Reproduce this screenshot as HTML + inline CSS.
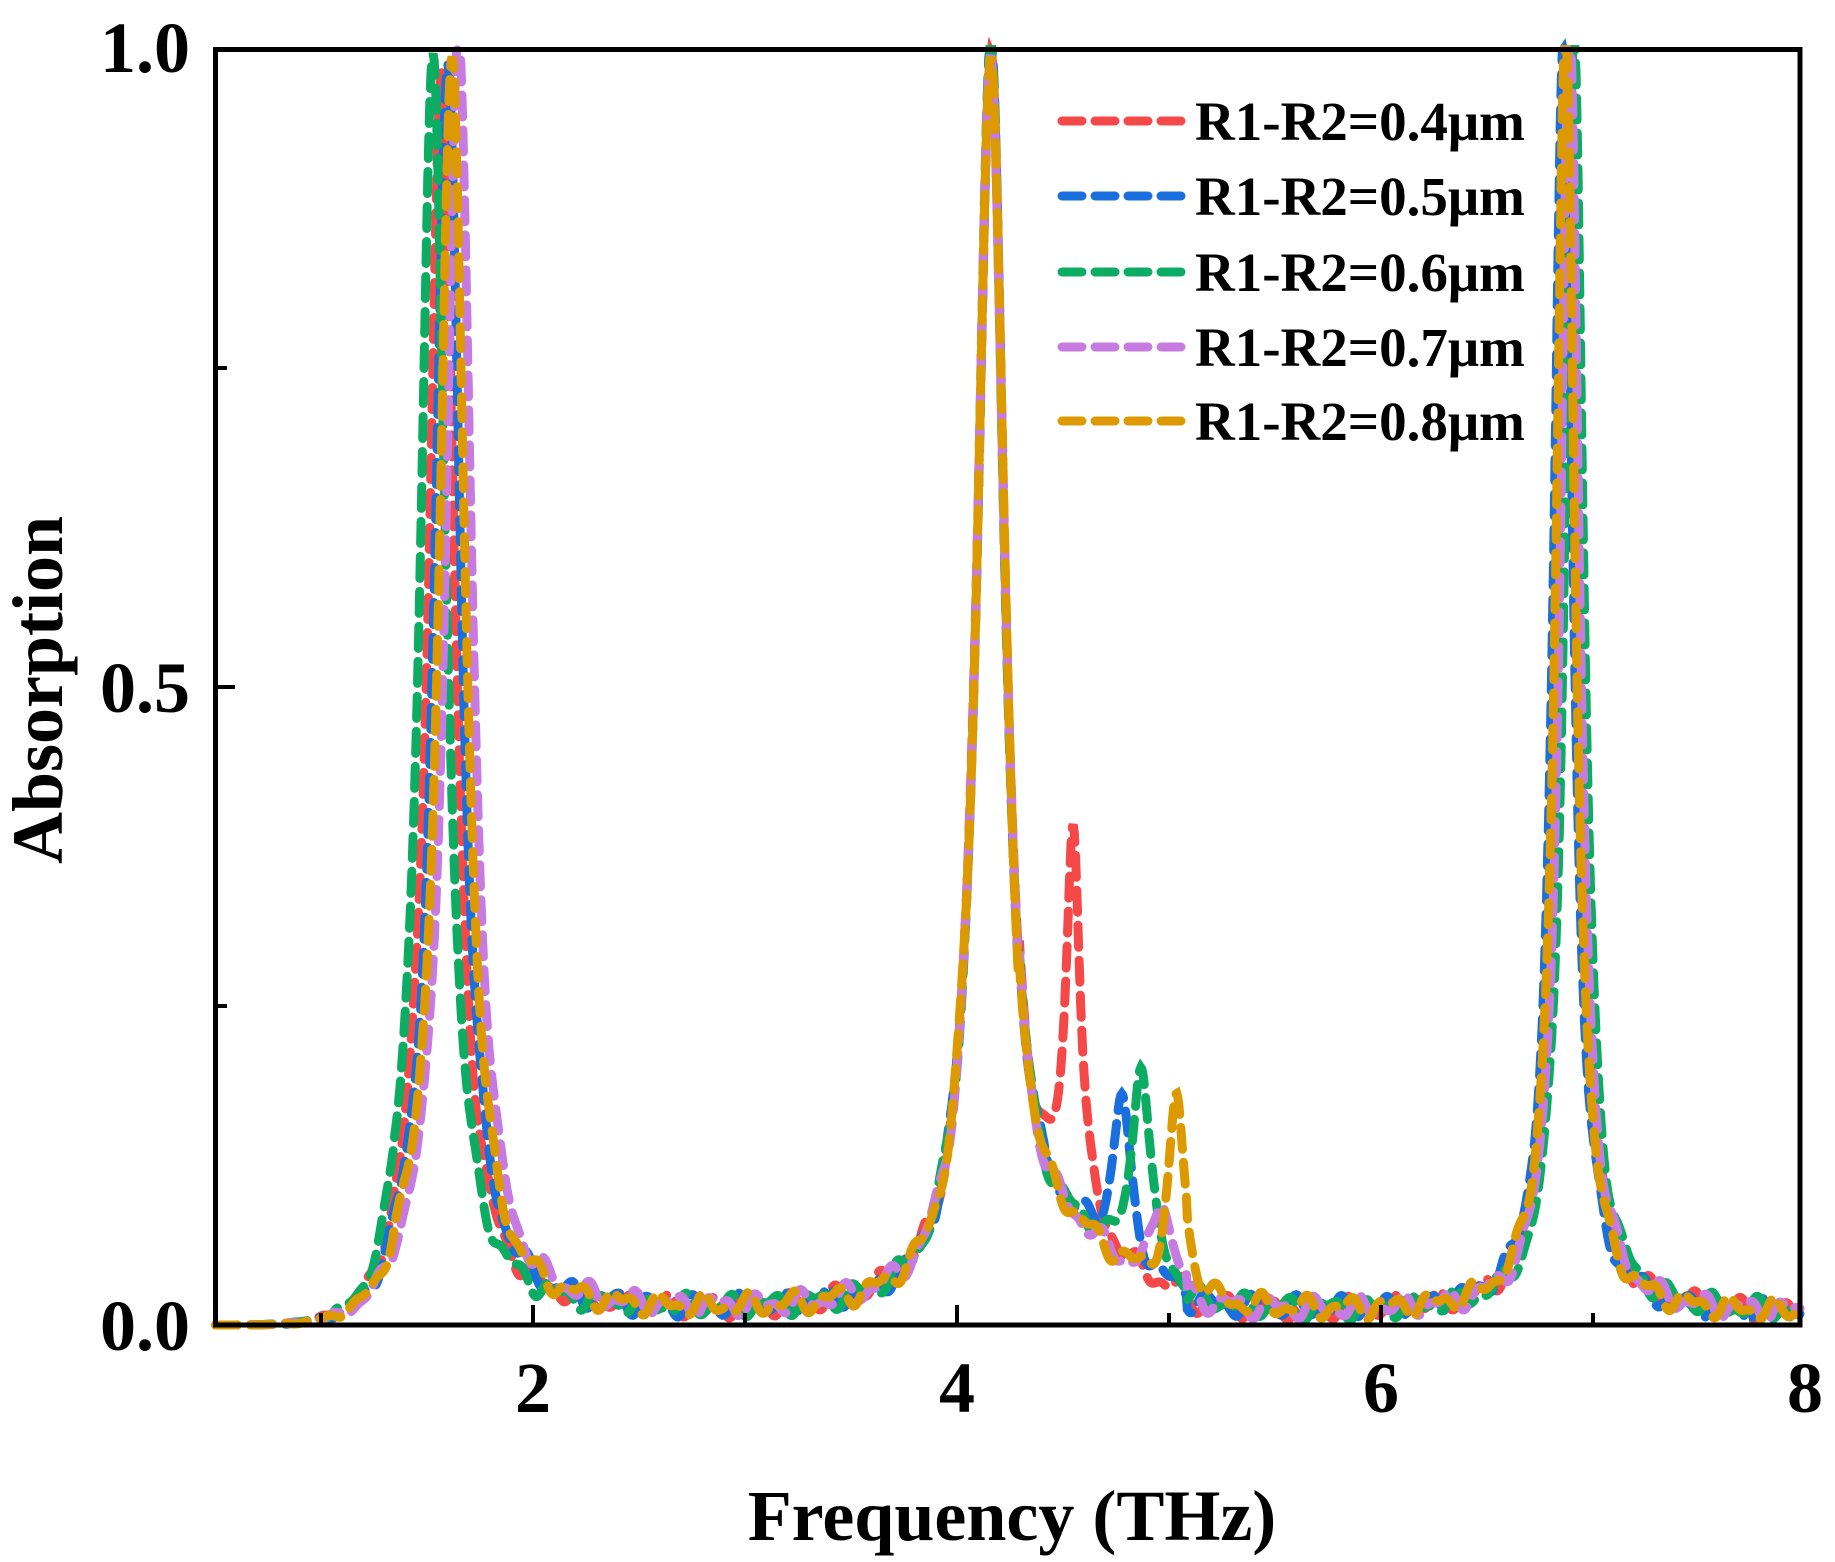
<!DOCTYPE html>
<html><head><meta charset="utf-8"><style>
html,body{margin:0;padding:0;background:#fff}
svg{display:block}
text{font-family:"Liberation Serif",serif;font-weight:bold;fill:#000}
</style></head><body>
<svg id="s" width="1835" height="1562" viewBox="0 0 1835 1562" xmlns="http://www.w3.org/2000/svg">
<g id="curves"></g>
<rect x="215.5" y="49.5" width="1584.5" height="1275.5" fill="none" stroke="#000" stroke-width="5"/>
<g stroke="#000" stroke-width="4">
<line x1="533" y1="1325" x2="533" y2="1305"/>
<line x1="957" y1="1325" x2="957" y2="1305"/>
<line x1="1381" y1="1325" x2="1381" y2="1305"/>
<line x1="745" y1="1325" x2="745" y2="1313"/>
<line x1="1169" y1="1325" x2="1169" y2="1313"/>
<line x1="1593" y1="1325" x2="1593" y2="1313"/>
<line x1="321" y1="1325" x2="321" y2="1313"/>
<line x1="215" y1="687" x2="235" y2="687"/>
<line x1="215" y1="1006" x2="227" y2="1006"/>
<line x1="215" y1="368" x2="227" y2="368"/>
</g>
<g font-size="72">
<text x="190" y="72" text-anchor="end">1.0</text>
<text x="190" y="712" text-anchor="end">0.5</text>
<text x="190" y="1350" text-anchor="end">0.0</text>
<text x="533" y="1412" text-anchor="middle">2</text>
<text x="957" y="1412" text-anchor="middle">4</text>
<text x="1381" y="1412" text-anchor="middle">6</text>
<text x="1805" y="1412" text-anchor="middle">8</text>
</g>
<text x="1012" y="1540" font-size="72" text-anchor="middle">Frequency (THz)</text>
<text transform="translate(62,690) rotate(-90)" font-size="72" text-anchor="middle">Absorption</text>
<g id="legend" font-size="55"></g>
</svg>
<script>
var X0=215.5,X1=1800,Y0=1325,Y1=49.5;
function px(f){return X0+(f-0.5)/(7.5)*(X1-X0);}
function py(a){return Y0-a*(Y0-Y1);}
function L(x,c,g){return 1/(1+Math.pow((x-c)/g,2));}
var series=[
 {c:"#f54848",p1:1.57,h1:0.97,b:[[4.56,0.04,0.31]],p3:6.9,s:1},
 {c:"#1a6fdf",p1:1.6,h1:0.98,b:[[4.79,0.05,0.13]],p3:6.88,s:2},
 {c:"#0cad63",p1:1.53,h1:0.98,b:[[4.88,0.05,0.17]],p3:6.93,s:3},
 {c:"#c77be0",p1:1.65,h1:1.0,b:[[4.98,0.05,0.07]],p3:6.91,s:4},
 {c:"#dc9a00",p1:1.62,h1:0.98,b:[[5.05,0.045,0.15]],p3:6.89,s:5}
];
var g=document.getElementById("curves"),ns="http://www.w3.org/2000/svg";
series.forEach(function(S){
 var d="";
 for(var i=0;i<=1500;i++){
  var x=0.5+7.5*i/1500;
  var a=S.h1*L(x,S.p1,0.075)+0.99*L(x,4.17,0.08)+L(x,S.p3,0.055);
  S.b.forEach(function(b){a+=b[2]*L(x,b[0],b[1]);});
  if(x>4.3&&x<5.1)a+=0.04*L(x,4.55,0.3);
  a+=0.008+0.006*Math.sin(x*31+S.s*1.7)+0.004*Math.sin(x*57+S.s);
  if(x<1.35)a*=Math.max(0,Math.pow((x-0.5)/0.85,3));
  if(a>1)a=1;if(a<0)a=0;
  d+=(i?"L":"M")+px(x).toFixed(1)+" "+py(a).toFixed(1);
 }
 var p=document.createElementNS(ns,"path");
 p.setAttribute("d",d);p.setAttribute("fill","none");p.setAttribute("stroke",S.c);
 p.setAttribute("stroke-width","9");p.setAttribute("stroke-dasharray","22 13");
 p.setAttribute("stroke-linecap","round");
 g.appendChild(p);
});
var lg=document.getElementById("legend"),labels=["0.4","0.5","0.6","0.7","0.8"],ys=[121,196,272,347,421];
series.forEach(function(S,i){
 var l=document.createElementNS(ns,"line");
 l.setAttribute("x1",1062);l.setAttribute("x2",1188);l.setAttribute("y1",ys[i]);l.setAttribute("y2",ys[i]);
 l.setAttribute("stroke",S.c);l.setAttribute("stroke-width","9");l.setAttribute("stroke-dasharray","20 13");l.setAttribute("stroke-linecap","round");
 lg.appendChild(l);
 var t=document.createElementNS(ns,"text");
 t.setAttribute("x",1195);t.setAttribute("y",ys[i]+19);
 t.textContent="R1-R2="+labels[i]+"\u03bcm";
 lg.appendChild(t);
});
</script>
</body></html>
